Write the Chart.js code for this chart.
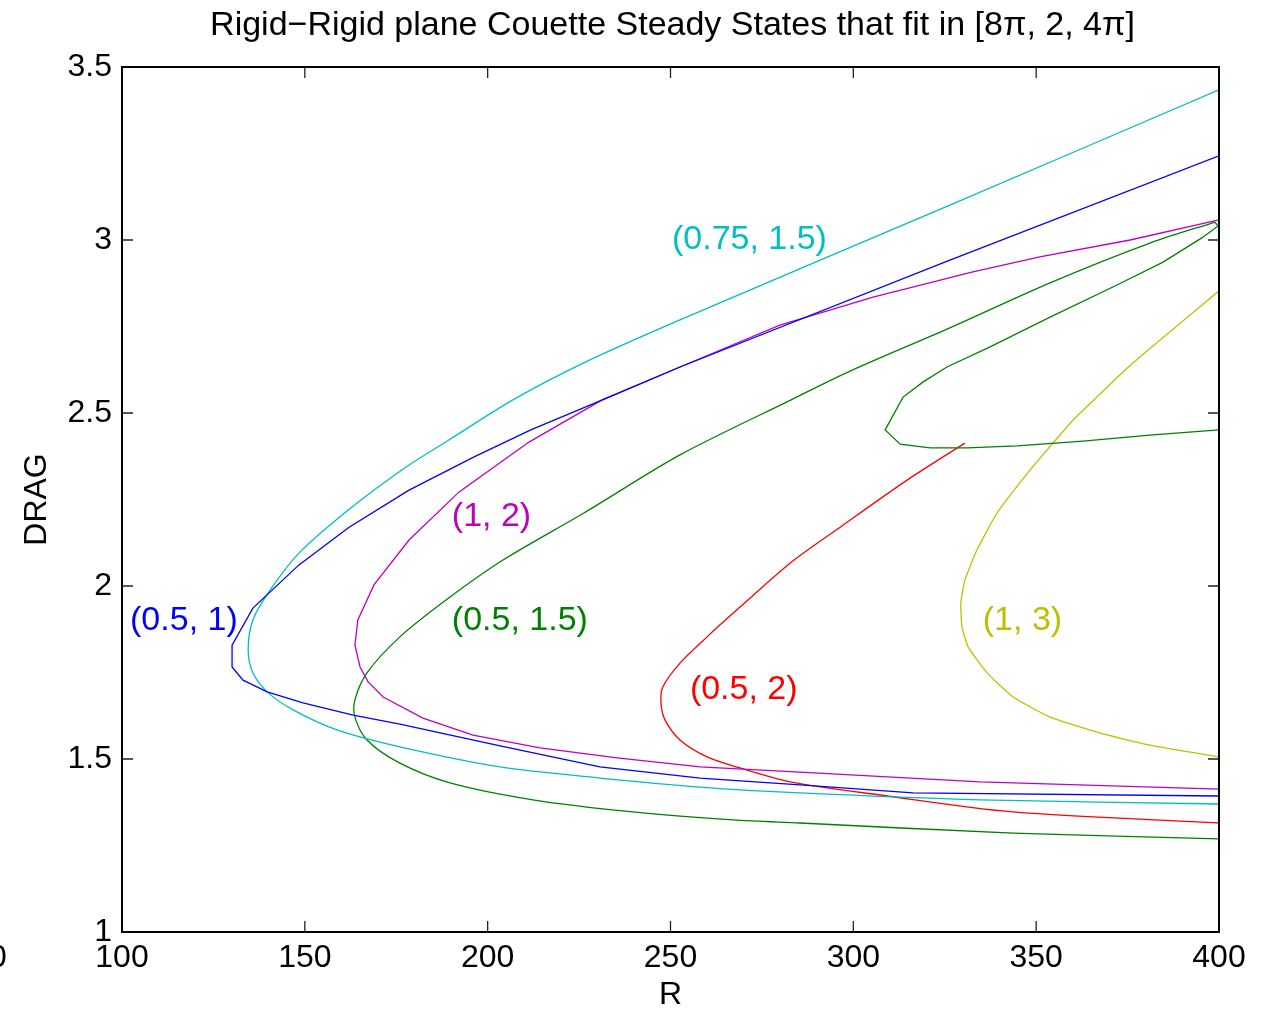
<!DOCTYPE html>
<html>
<head>
<meta charset="utf-8">
<script src="https://cdn.jsdelivr.net/npm/chart.js@4/dist/chart.umd.min.js"></script>
<style>
html,body{margin:0;padding:0;background:#fff;}
#wrap{width:1282px;height:1014px;position:relative;}
</style>
</head>
<body>
<div id="wrap"><canvas id="c"></canvas></div>
<script>
// ---- axis ticks ----
const xTicks = [100, 150, 200, 250, 300, 350, 400];
const yTicks = [1, 1.5, 2, 2.5, 3, 3.5];

// ---- series (R, DRAG) ----
const r_05_1 = [400, 326.4, 252.6, 233.2, 211.8, 196.3, 178.5, 162.1, 148.4, 135.8, 130.1, 130.1, 133.1, 139.7, 149.5, 163.2, 176.0, 203.4, 230.7, 258.1, 285.4, 316.3, 400];
const d_05_1 = [3.243, 2.942, 2.633, 2.546, 2.451, 2.373, 2.277, 2.170, 2.061, 1.936, 1.829, 1.766, 1.728, 1.694, 1.662, 1.627, 1.601, 1.538, 1.477, 1.445, 1.425, 1.402, 1.393];

const r_075_15 = [400, 326.4, 252.6, 226.3, 206.9, 189.4, 177.7, 162.9, 148.4, 140.5, 135.8, 134.5, 135.8, 139.7, 146.8, 158.8, 176.0, 203.4, 230.7, 258.1, 285.4, 334.6, 400];
const d_075_15 = [3.434, 3.101, 2.769, 2.645, 2.538, 2.422, 2.344, 2.228, 2.095, 1.988, 1.902, 1.815, 1.749, 1.694, 1.642, 1.584, 1.535, 1.477, 1.445, 1.419, 1.402, 1.382, 1.370];

const r_1_2 = [400, 375.7, 351.0, 332.7, 305.4, 279.9, 252.6, 231.3, 211.3, 192.2, 178.5, 168.9, 164.5, 163.7, 165.1, 167.3, 171.4, 182.3, 196.0, 214.3, 235.4, 258.1, 285.4, 334.6, 400];
const d_1_2 = [3.058, 3.000, 2.951, 2.908, 2.835, 2.754, 2.633, 2.538, 2.416, 2.272, 2.133, 2.003, 1.902, 1.829, 1.766, 1.723, 1.679, 1.618, 1.569, 1.532, 1.503, 1.477, 1.462, 1.434, 1.413];

// (0.5, 1.5): smooth outer part (lower branch -> nose -> upper branch to the fold)
const r_05_15a = [400, 343.7, 285.4, 267.1, 239.7, 212.4, 189.7, 176.0, 167.0, 163.7, 163.7, 167.0, 176.0, 189.7, 204.2, 226.3, 252.6, 283.0, 299.1, 326.4, 353.8, 381.1, 398.9];
const d_05_15a = [1.269, 1.286, 1.315, 1.324, 1.347, 1.382, 1.431, 1.488, 1.555, 1.621, 1.671, 1.749, 1.853, 1.968, 2.075, 2.211, 2.379, 2.538, 2.621, 2.746, 2.876, 2.991, 3.052];
// (0.5, 1.5): folded-back inner loop
const r_05_15b = [398.9, 399.7, 395.3, 384.7, 372.1, 353.8, 337.4, 325.6, 319.1, 313.6, 308.7, 312.8, 321.0, 331.1, 344.8, 362.8, 381.1, 400];
const d_05_15b = [3.052, 3.040, 3.006, 2.936, 2.870, 2.777, 2.691, 2.633, 2.590, 2.546, 2.451, 2.410, 2.399, 2.399, 2.405, 2.419, 2.436, 2.451];

const r_05_2 = [330.5, 314.7, 296.4, 282.7, 269.0, 260.0, 252.6, 247.9, 247.4, 248.5, 252.6, 260.0, 269.0, 282.7, 307.3, 343.7, 400];
const d_05_2 = [2.413, 2.306, 2.170, 2.066, 1.939, 1.853, 1.777, 1.708, 1.662, 1.613, 1.555, 1.506, 1.474, 1.434, 1.396, 1.347, 1.315];

const r_1_3 = [400, 376.5, 360.1, 354.6, 348.3, 339.3, 333.8, 330.5, 329.4, 329.7, 331.4, 336.6, 343.7, 353.8, 367.5, 381.1, 400];
const d_1_3 = [2.853, 2.645, 2.480, 2.413, 2.335, 2.211, 2.104, 2.017, 1.951, 1.882, 1.824, 1.749, 1.679, 1.621, 1.575, 1.540, 1.506];

// ---- curve labels ----
const labelText = ['(0.5, 1)', '(0.75, 1.5)', '(1, 2)', '(0.5, 1.5)', '(0.5, 2)', '(1, 3)'];
const labelR = [102.2, 250.4, 190.2, 190.2, 255.3, 335.4];
const labelD = [1.9, 3.0, 2.2, 1.9, 1.7, 1.9];
const labelColor = ['#0000ff', '#00bfbf', '#bf00bf', '#008000', '#ff0000', '#bfbf00'];

const seriesR = [r_05_1, r_075_15, r_1_2, r_05_15a, r_05_15b, r_05_2, r_1_3];
const seriesD = [d_05_1, d_075_15, d_1_2, d_05_15a, d_05_15b, d_05_2, d_1_3];
const seriesName = ['(0.5, 1)', '(0.75, 1.5)', '(1, 2)', '(0.5, 1.5)', '(0.5, 1.5) loop', '(0.5, 2)', '(1, 3)'];
const seriesColor = ['#0000ff', '#00bfbf', '#bf00bf', '#008000', '#008000', '#ff0000', '#bfbf00'];
const seriesTension = [0, 0.3, 0, 0.3, 0, 0.3, 0.15];

const FONT = '"Liberation Sans", Helvetica, Arial, sans-serif';

const datasets = seriesR.map((rs, i) => ({
  label: seriesName[i],
  data: rs.map((r, j) => ({x: r, y: seriesD[i][j]})),
  showLine: true,
  borderColor: seriesColor[i],
  backgroundColor: seriesColor[i],
  borderWidth: 1.3,
  pointRadius: 0,
  pointHoverRadius: 0,
  tension: seriesTension[i],
  fill: false
}));

const decor = {
  id: 'decor',
  afterDatasetsDraw(chart) {
    const {ctx, chartArea: {left, right, top, bottom}, scales: {x, y}} = chart;
    ctx.save();
    // curve labels
    ctx.font = '34px ' + FONT;
    ctx.textAlign = 'left';
    ctx.textBaseline = 'middle';
    labelText.forEach((t, i) => {
      ctx.fillStyle = labelColor[i];
      ctx.fillText(t, x.getPixelForValue(labelR[i]), y.getPixelForValue(labelD[i]));
    });
    // inward ticks
    ctx.strokeStyle = '#222';
    ctx.lineWidth = 1.3;
    ctx.beginPath();
    xTicks.forEach(v => {
      const p = x.getPixelForValue(v);
      ctx.moveTo(p, bottom); ctx.lineTo(p, bottom - 11);
      ctx.moveTo(p, top); ctx.lineTo(p, top + 11);
    });
    yTicks.forEach(v => {
      const p = y.getPixelForValue(v);
      ctx.moveTo(left, p); ctx.lineTo(left + 11, p);
      ctx.moveTo(right, p); ctx.lineTo(right - 11, p);
    });
    ctx.stroke();
    // frame
    ctx.strokeStyle = '#000';
    ctx.lineWidth = 2;
    ctx.strokeRect(left, top, right - left, bottom - top);
    // title
    ctx.fillStyle = '#000';
    ctx.font = '34px ' + FONT;
    ctx.textAlign = 'center';
    ctx.textBaseline = 'middle';
    ctx.fillText('Rigid\u2212Rigid plane Couette Steady States that fit in [8\u03c0, 2, 4\u03c0]', (left + right) / 2 + 2, 26);
    // stray clipped tick label at far left
    ctx.font = '32px ' + FONT;
    ctx.fillText('0', -2, 958);
    ctx.restore();
  }
};

new Chart(document.getElementById('c'), {
  type: 'scatter',
  data: {datasets},
  plugins: [decor],
  options: {
    responsive: true,
    maintainAspectRatio: false,
    animation: false,
    events: [],
    layout: {padding: {left: 0, right: 63, top: 67, bottom: 0}},
    plugins: {legend: {display: false}, tooltip: {enabled: false}, title: {display: false}},
    scales: {
      x: {
        type: 'linear', min: 100, max: 400,
        afterBuildTicks(s) { s.ticks = xTicks.map(v => ({value: v})); },
        afterFit(s) { s.height = 82; },
        ticks: {color: '#000', font: {family: FONT, size: 32}, padding: 7, maxRotation: 0, autoSkip: false, callback: v => String(v)},
        grid: {display: false, drawTicks: false},
        border: {display: false},
        title: {display: true, text: 'R', color: '#000', font: {family: FONT, size: 32}, padding: {top: 0, bottom: 0}}
      },
      y: {
        type: 'linear', min: 1, max: 3.5,
        afterBuildTicks(s) { s.ticks = yTicks.map(v => ({value: v})); },
        afterFit(s) { s.width = 122; },
        ticks: {color: '#000', font: {family: FONT, size: 32}, padding: 10, autoSkip: false, callback: v => String(v)},
        grid: {display: false, drawTicks: false},
        border: {display: false},
        title: {display: true, text: 'DRAG', color: '#000', font: {family: FONT, size: 32}, padding: {top: 18, bottom: 0}}
      }
    }
  }
});
</script>
</body>
</html>
